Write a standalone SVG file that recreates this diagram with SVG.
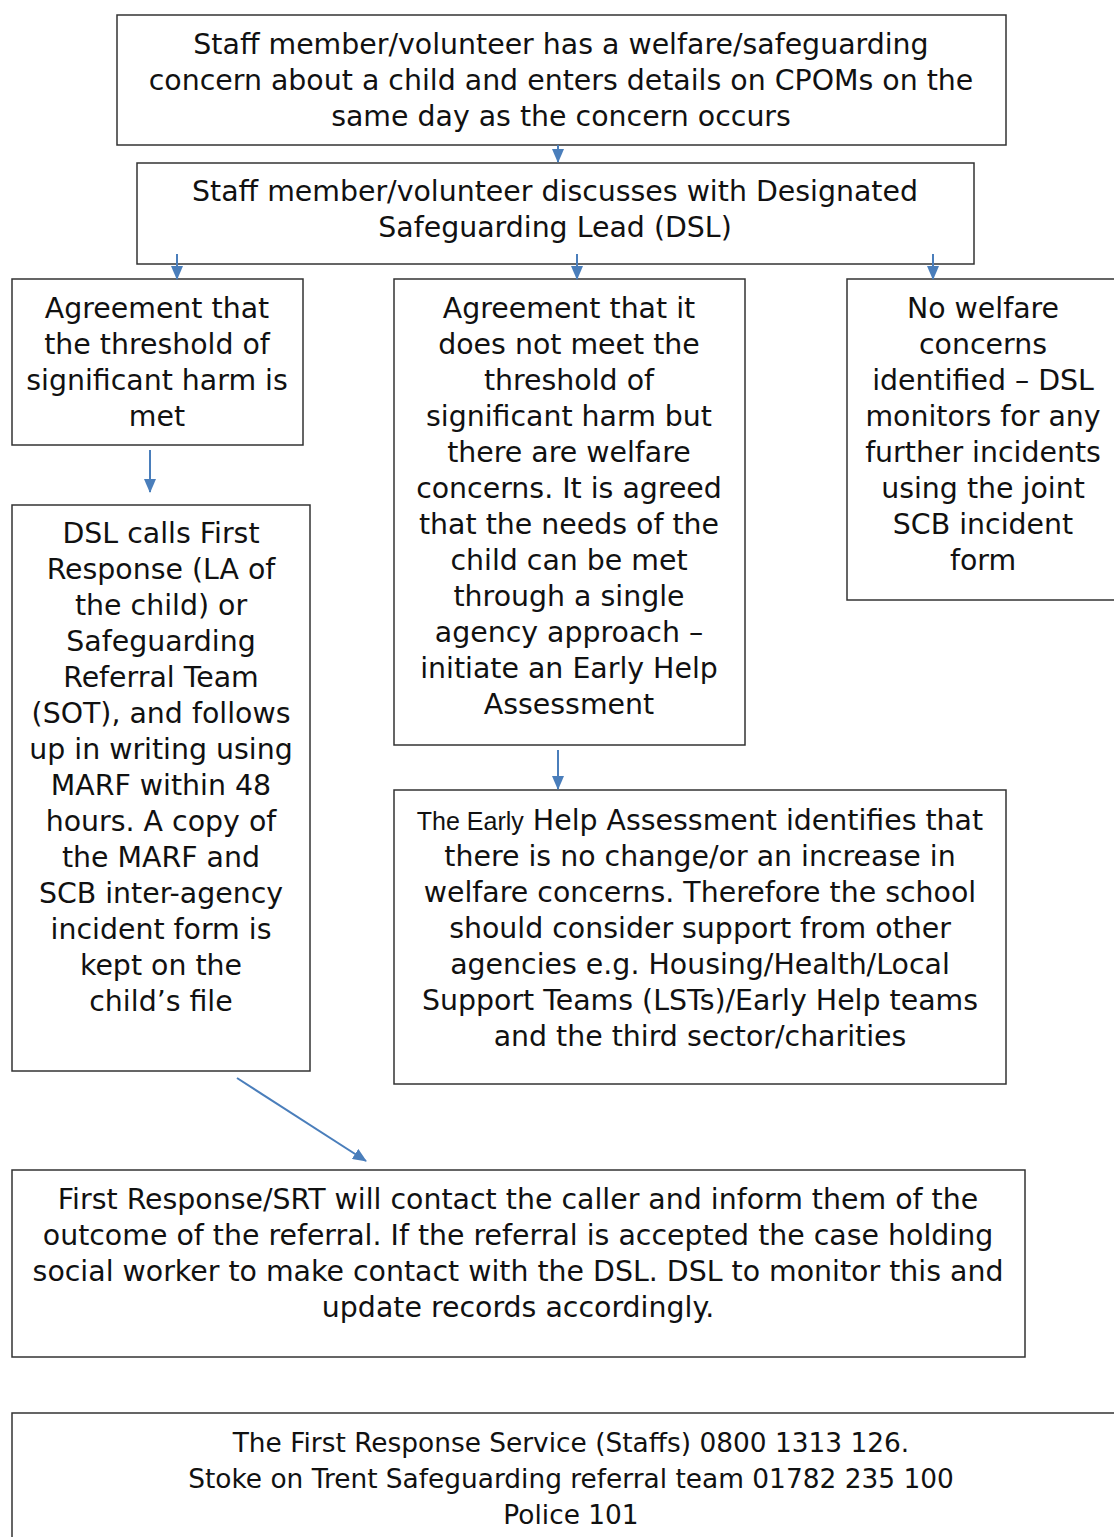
<svg xmlns="http://www.w3.org/2000/svg" width="1114" height="1537" viewBox="0 0 1114 1537">
<defs>
<marker id="ah" markerWidth="14" markerHeight="12" refX="13" refY="6" orient="auto" markerUnits="userSpaceOnUse" viewBox="0 0 14 12">
<path d="M0,0 L14,6 L0,12 z" fill="#4a7ebb"/>
</marker>
<style>
.box{fill:#fff;stroke:#333;stroke-width:1.5}
.t{font-family:"DejaVu Sans","Liberation Sans",sans-serif;font-size:28.4px;fill:#111;text-anchor:middle}
.b{font-size:26.4px}
.s{font-family:"Liberation Sans",sans-serif;font-size:25px}
.c{stroke:#4a7ebb;stroke-width:2;fill:none;marker-end:url(#ah)}
</style>
</defs>
<rect width="1114" height="1537" fill="#fff"/>
<g id="nodeA"><rect class="box" x="117" y="15" width="889" height="130"/>
<text class="t"><tspan x="561" y="54">Staff member/volunteer has a welfare/safeguarding</tspan><tspan x="561" y="90">concern about a child and enters details on CPOMs on the</tspan><tspan x="561" y="126">same day as the concern occurs</tspan></text></g>
<g id="nodeB"><rect class="box" x="137" y="163" width="837" height="101"/>
<text class="t"><tspan x="555" y="201">Staff member/volunteer discusses with Designated</tspan><tspan x="555" y="237">Safeguarding Lead (DSL)</tspan></text></g>
<g id="nodeC"><rect class="box" x="12" y="279" width="291" height="166"/>
<text class="t"><tspan x="157" y="318">Agreement that</tspan><tspan x="157" y="354">the threshold of</tspan><tspan x="157" y="390">significant harm is</tspan><tspan x="157" y="426">met</tspan></text></g>
<g id="nodeD"><rect class="box" x="394" y="279" width="351" height="466"/>
<text class="t"><tspan x="569" y="318">Agreement that it</tspan><tspan x="569" y="354">does not meet the</tspan><tspan x="569" y="390">threshold of</tspan><tspan x="569" y="426">significant harm but</tspan><tspan x="569" y="462">there are welfare</tspan><tspan x="569" y="498">concerns. It is agreed</tspan><tspan x="569" y="534">that the needs of the</tspan><tspan x="569" y="570">child can be met</tspan><tspan x="569" y="606">through a single</tspan><tspan x="569" y="642">agency approach –</tspan><tspan x="569" y="678">initiate an Early Help</tspan><tspan x="569" y="714">Assessment</tspan></text></g>
<g id="nodeE"><rect class="box" x="847" y="279" width="280" height="321"/>
<text class="t"><tspan x="983" y="318">No welfare</tspan><tspan x="983" y="354">concerns</tspan><tspan x="983" y="390">identified – DSL</tspan><tspan x="983" y="426">monitors for any</tspan><tspan x="983" y="462">further incidents</tspan><tspan x="983" y="498">using the joint</tspan><tspan x="983" y="534">SCB incident</tspan><tspan x="983" y="570">form</tspan></text></g>
<g id="nodeF"><rect class="box" x="12" y="505" width="298" height="566"/>
<text class="t"><tspan x="161" y="543">DSL calls First</tspan><tspan x="161" y="579">Response (LA of</tspan><tspan x="161" y="615">the child) or</tspan><tspan x="161" y="651">Safeguarding</tspan><tspan x="161" y="687">Referral Team</tspan><tspan x="161" y="723">(SOT), and follows</tspan><tspan x="161" y="759">up in writing using</tspan><tspan x="161" y="795">MARF within 48</tspan><tspan x="161" y="831">hours. A copy of</tspan><tspan x="161" y="867">the MARF and</tspan><tspan x="161" y="903">SCB inter-agency</tspan><tspan x="161" y="939">incident form is</tspan><tspan x="161" y="975">kept on the</tspan><tspan x="161" y="1011">child’s file</tspan></text></g>
<g id="nodeG"><rect class="box" x="394" y="790" width="612" height="294"/>
<text class="t"><tspan x="700" y="830"><tspan class="s">The Early</tspan> Help Assessment identifies that</tspan><tspan x="700" y="866">there is no change/or an increase in</tspan><tspan x="700" y="902">welfare concerns. Therefore the school</tspan><tspan x="700" y="938">should consider support from other</tspan><tspan x="700" y="974">agencies e.g. Housing/Health/Local</tspan><tspan x="700" y="1010">Support Teams (LSTs)/Early Help teams</tspan><tspan x="700" y="1046">and the third sector/charities</tspan></text></g>
<g id="nodeH"><rect class="box" x="12" y="1170" width="1013" height="187"/>
<text class="t"><tspan x="518" y="1209">First Response/SRT will contact the caller and inform them of the</tspan><tspan x="518" y="1245">outcome of the referral. If the referral is accepted the case holding</tspan><tspan x="518" y="1281">social worker to make contact with the DSL. DSL to monitor this and</tspan><tspan x="518" y="1317">update records accordingly.</tspan></text></g>
<g id="nodeI"><rect class="box" x="12" y="1413" width="1120" height="140"/>
<text class="t b"><tspan x="571" y="1452">The First Response Service (Staffs) 0800 1313 126.</tspan><tspan x="571" y="1488">Stoke on Trent Safeguarding referral team 01782 235 100</tspan><tspan x="571" y="1524">Police 101</tspan></text></g>
<g id="connectors">
<line class="c" x1="558" y1="145" x2="558" y2="162"/>
<line class="c" x1="177" y1="254" x2="177" y2="279"/>
<line class="c" x1="577" y1="254" x2="577" y2="279"/>
<line class="c" x1="933" y1="254" x2="933" y2="279"/>
<line class="c" x1="150" y1="450" x2="150" y2="492"/>
<line class="c" x1="558" y1="750" x2="558" y2="789"/>
<line class="c" x1="237" y1="1078" x2="366" y2="1161"/>
</g>
</svg>
